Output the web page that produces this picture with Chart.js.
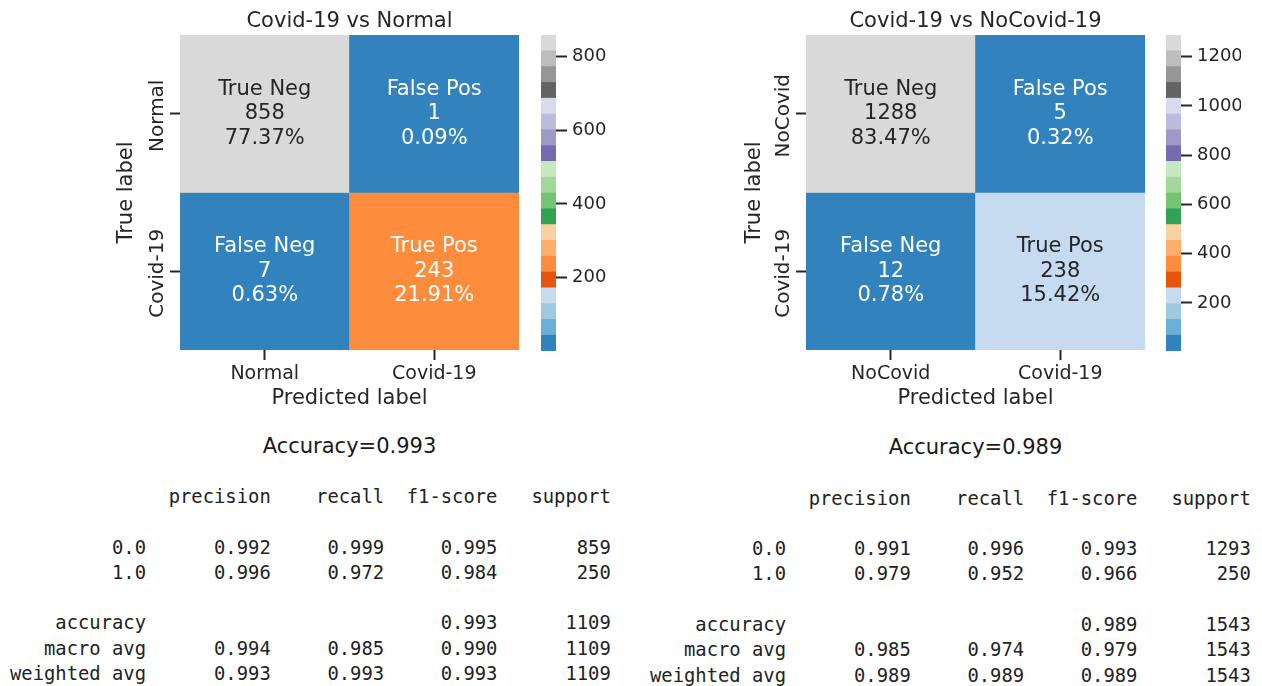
<!DOCTYPE html>
<html><head><meta charset="utf-8">
<script src="https://cdn.jsdelivr.net/npm/chart.js@4.4.1/dist/chart.umd.min.js"></script>
<style>
html,body{margin:0;padding:0;background:#fff;}
#wrap{position:relative;width:1262px;height:686px;overflow:hidden;background:#fff;}
canvas{position:absolute;}
.acc{position:absolute;width:400px;text-align:center;font-family:'DejaVu Sans';font-size:21px;line-height:24px;color:#1a1a1a;white-space:nowrap;}
pre.rep{position:absolute;margin:0;font-family:'DejaVu Sans Mono';font-size:18.84px;line-height:25.3px;color:#222;}
</style></head><body>
<div id="wrap">
  <canvas id="hmA" style="left:100px;top:0px" width="440" height="420"></canvas>
  <canvas id="cbA" style="left:530px;top:0px" width="90" height="420"></canvas>
  <canvas id="hmB" style="left:726px;top:0px" width="440" height="420"></canvas>
  <canvas id="cbB" style="left:1155px;top:0px" width="100" height="420"></canvas>
  <div class="acc" id="accA" style="left:149.5px;top:434px"></div>
  <div class="acc" id="accB" style="left:775.5px;top:435px"></div>
  <pre class="rep" id="repA" style="left:10px;top:484px"></pre>
  <pre class="rep" id="repB" style="left:650px;top:485.5px"></pre>
</div>
<script>
// ---------------- data ----------------
const titleA = 'Covid-19 vs Normal';
const predLabelsA = ['Normal', 'Covid-19'];
const trueLabelsA = ['Normal', 'Covid-19'];
const countsA = [[858, 1], [7, 243]];
const percentsA = [[77.37, 0.09], [0.63, 21.91]];
const cbTicksA = [200, 400, 600, 800];

const titleB = 'Covid-19 vs NoCovid-19';
const predLabelsB = ['NoCovid', 'Covid-19'];
const trueLabelsB = ['NoCovid', 'Covid-19'];
const countsB = [[1288, 5], [12, 238]];
const percentsB = [[83.47, 0.32], [0.78, 15.42]];
const cbTicksB = [200, 400, 600, 800, 1000, 1200];

const groupNames = [['True Neg', 'False Pos'], ['False Neg', 'True Pos']];

const accuracyA = 0.993;
const accuracyB = 0.989;

const reportHeaders = ['precision', 'recall', 'f1-score', 'support'];
const reportRows = ['0.0', '1.0', 'accuracy', 'macro avg', 'weighted avg'];
const precisionA = [0.992, 0.996, null, 0.994, 0.993];
const recallA    = [0.999, 0.972, null, 0.985, 0.993];
const f1A        = [0.995, 0.984, 0.993, 0.990, 0.993];
const supportA   = [859, 250, 1109, 1109, 1109];
const precisionB = [0.991, 0.979, null, 0.985, 0.989];
const recallB    = [0.996, 0.952, null, 0.974, 0.989];
const f1B        = [0.993, 0.966, 0.989, 0.979, 0.989];
const supportB   = [1293, 250, 1543, 1543, 1543];

// ---------------- style helpers ----------------
const TAB20C = ['#3182bd','#6baed6','#9ecae1','#c6dbef','#e6550d','#fd8d3c','#fdae6b','#fdd0a2',
  '#31a354','#74c476','#a1d99b','#c7e9c0','#756bb1','#9e9ac8','#bcbddc','#dadaeb',
  '#636363','#969696','#bdbdbd','#d9d9d9'];
const TXT = '#262626';
function cmap(v, vmin, vmax) {
  let i = Math.floor((v - vmin) / (vmax - vmin) * TAB20C.length);
  i = Math.max(0, Math.min(TAB20C.length - 1, i));
  return TAB20C[i];
}
function lum(hex) {
  const c = [1, 3, 5].map(k => parseInt(hex.substr(k, 2), 16) / 255)
    .map(x => x <= 0.03928 ? x / 12.92 : Math.pow((x + 0.055) / 1.055, 2.4));
  return 0.2126 * c[0] + 0.7152 * c[1] + 0.0722 * c[2];
}

Chart.defaults.font.family = "'DejaVu Sans'";
Chart.defaults.color = TXT;

const annotPlugin = {
  id: 'annot',
  afterDatasetsDraw(chart, args, opts) {
    if (!opts || !opts.on) return;
    const ctx = chart.ctx;
    ctx.save();
    ctx.font = '21px "DejaVu Sans"';
    ctx.textAlign = 'center';
    ctx.textBaseline = 'middle';
    chart.data.datasets.forEach((ds, r) => {
      chart.getDatasetMeta(r).data.forEach((el, c) => {
        const cx = el.x, cy = (el.y + el.base) / 2;
        ctx.fillStyle = lum(ds.backgroundColor[c]) > 0.408 ? TXT : '#ffffff';
        const lines = [ds.names[c], String(ds.counts[c]), ds.pcts[c].toFixed(2) + '%'];
        lines.forEach((t, k) => ctx.fillText(t, cx, cy + (k - 1) * 24.5));
      });
    });
    const ys = chart.scales.y;
    const n = opts.yLabels.length;
    ctx.fillStyle = TXT;
    ctx.font = '20px "DejaVu Sans"';
    ctx.textBaseline = 'alphabetic';
    opts.yLabels.forEach((lab, r) => {
      const py = ys.getPixelForValue(n - r - 0.5);
      ctx.save();
      ctx.translate(ys.right - 17, py + 2);
      ctx.rotate(-Math.PI / 2);
      ctx.fillText(lab, 0, 0);
      ctx.restore();
    });
    ctx.restore();
  }
};
Chart.register(annotPlugin);

function tickGrid(len) {
  return { display: true, drawOnChartArea: false, drawTicks: true, tickLength: len,
           tickWidth: 2, tickColor: TXT, offset: false };
}

function heatmap(id, title, xLabels, yLabels, counts, pcts, titlePadY) {
  const flat = counts.flat();
  const vmin = Math.min(...flat), vmax = Math.max(...flat);
  const n = yLabels.length;
  const datasets = yLabels.map((lab, r) => ({
    label: lab,
    data: xLabels.map(() => [n - r - 1, n - r]),
    backgroundColor: counts[r].map(v => cmap(v, vmin, vmax)),
    borderWidth: 0,
    barPercentage: 1,
    categoryPercentage: 1,
    counts: counts[r],
    names: groupNames[r],
    pcts: pcts[r]
  }));
  return new Chart(document.getElementById(id), {
    type: 'bar',
    data: { labels: xLabels, datasets },
    options: {
      responsive: false, animation: false, events: [],
      layout: { padding: { left: 0, right: 21, top: 0, bottom: 0 } },
      plugins: {
        legend: { display: false },
        tooltip: { enabled: false },
        title: { display: true, text: title, color: TXT, fullSize: false,
                 font: { size: 21, weight: 'normal', lineHeight: 1 }, padding: { top: 11, bottom: 3 } },
        annot: { on: true, yLabels: yLabels }
      },
      scales: {
        x: {
          type: 'category', stacked: true, offset: true,
          grid: tickGrid(10), border: { display: false },
          ticks: { color: TXT, font: { size: 19 }, padding: 3 },
          title: { display: true, text: 'Predicted label', color: TXT,
                   font: { size: 21 }, padding: { top: 0, bottom: 8.4 } },
          afterFit: s => { s.height = 70; }
        },
        y: {
          type: 'linear', min: 0, max: n, stacked: false,
          afterBuildTicks: s => { s.ticks = yLabels.map((_, r) => ({ value: n - r - 0.5 })); },
          grid: tickGrid(10), border: { display: false },
          ticks: { display: false },
          title: { display: true, text: 'True label', color: TXT,
                   font: { size: 21 }, padding: { top: titlePadY, bottom: 0 } },
          afterFit: s => { s.width = 80; }
        }
      }
    }
  });
}

function colorbar(id, counts, ticks, canvasW) {
  const flat = counts.flat();
  const vmin = Math.min(...flat), vmax = Math.max(...flat);
  const N = TAB20C.length;
  const datasets = TAB20C.map((col, i) => ({
    data: [[vmin + (vmax - vmin) * i / N, vmin + (vmax - vmin) * (i + 1) / N]],
    backgroundColor: col, borderWidth: 0, barPercentage: 1, categoryPercentage: 1
  }));
  return new Chart(document.getElementById(id), {
    type: 'bar',
    data: { labels: ['cb'], datasets },
    options: {
      responsive: false, animation: false, events: [],
      layout: { padding: { left: 11, right: canvasW - 26 - 60, top: 35, bottom: 69 } },
      plugins: { legend: { display: false }, tooltip: { enabled: false }, title: { display: false } },
      scales: {
        x: { display: false, stacked: true },
        y: {
          type: 'linear', position: 'right', min: vmin, max: vmax, stacked: false,
          afterBuildTicks: s => { s.ticks = ticks.map(v => ({ value: v })); },
          grid: tickGrid(11), border: { display: false },
          ticks: { color: TXT, font: { size: 18 }, padding: 5, callback: v => String(v) },
          afterFit: s => { s.width = 60; }
        }
      }
    }
  });
}

function report(prec, rec, f1, sup) {
  const w = 12;
  const lines = [];
  lines.push(''.padStart(w) + ' ' + reportHeaders.map(h => ' ' + h.padStart(9)).join(''));
  const row = i => reportRows[i].padStart(w) + ' ' +
    [prec[i], rec[i], f1[i]].map(v => ' ' + (v == null ? '' : v.toFixed(3)).padStart(9)).join('') +
    ' ' + String(sup[i]).padStart(9);
  lines.push('');
  lines.push(row(0)); lines.push(row(1));
  lines.push('');
  lines.push(row(2)); lines.push(row(3)); lines.push(row(4));
  return lines.join('\n');
}

heatmap('hmA', titleA, predLabelsA, trueLabelsA, countsA, percentsA, 14.4);
colorbar('cbA', countsA, cbTicksA, 90);
heatmap('hmB', titleB, predLabelsB, trueLabelsB, countsB, percentsB, 16.4);
colorbar('cbB', countsB, cbTicksB, 100);

document.getElementById('accA').textContent = 'Accuracy=' + accuracyA.toFixed(3);
document.getElementById('accB').textContent = 'Accuracy=' + accuracyB.toFixed(3);
document.getElementById('repA').textContent = report(precisionA, recallA, f1A, supportA);
document.getElementById('repB').textContent = report(precisionB, recallB, f1B, supportB);
</script>
</body></html>
